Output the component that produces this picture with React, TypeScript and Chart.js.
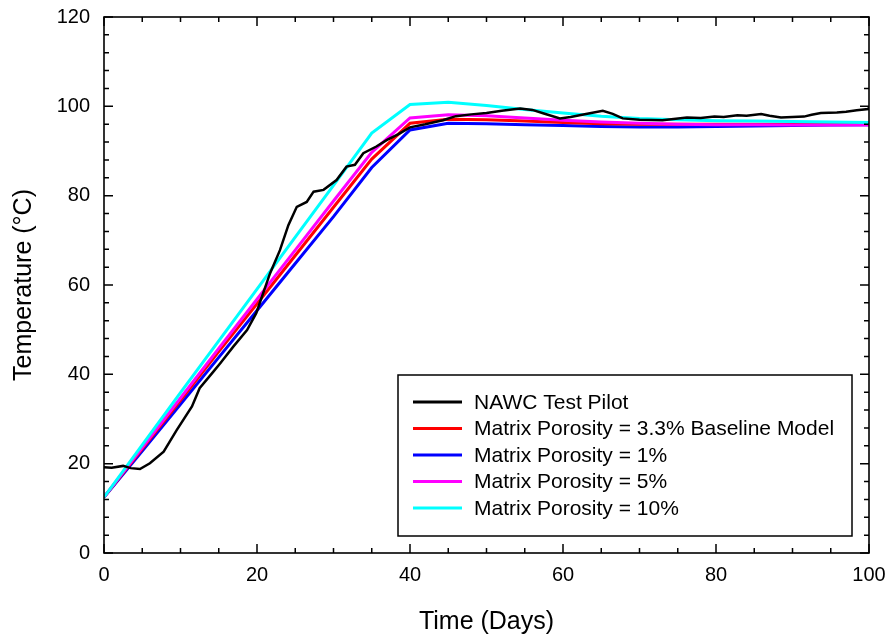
import React, { useEffect, useRef } from "react";
import { Chart, registerables } from "chart.js";

Chart.register(...registerables);

const pilotDays = [0, 1, 2.5, 3.5, 4.7, 6, 7.8, 9.5, 11.5, 12.5, 14.3, 15.2, 16.9, 18.7, 19.9, 21.7, 23, 24.1, 25.2, 26.5, 27.4, 28.7, 30.4, 31.7, 32.8, 33.9, 35.6, 37, 38.5, 40, 42, 44.3, 46, 48, 50, 52, 54.4, 56, 57.5, 59.6, 61, 63, 65.2, 66.5, 67.8, 70, 73, 76.2, 78, 79.8, 81, 82.8, 84, 85.9, 87, 88.5, 90, 91.5, 92.5, 93.7, 95.8, 97, 98.4, 99.9, 100];
const pilotTemp = [19.2, 19.1, 19.5, 19.0, 18.8, 20.1, 22.7, 27.5, 32.8, 36.9, 40.6, 42.5, 46.2, 49.9, 53.7, 62.6, 67.8, 73.4, 77.5, 78.6, 80.9, 81.3, 83.5, 86.5, 86.9, 89.5, 91.0, 92.5, 93.8, 95.3, 96.0, 96.9, 97.8, 98.2, 98.5, 99.0, 99.5, 99.2, 98.4, 97.3, 97.6, 98.3, 99.0, 98.3, 97.3, 97.0, 96.9, 97.5, 97.4, 97.7, 97.6, 98.0, 97.9, 98.3, 97.9, 97.5, 97.6, 97.7, 98.1, 98.5, 98.6, 98.8, 99.1, 99.4, 99.8];

const modelDays = [0, 5, 10, 15, 20, 25, 30, 35, 40, 45, 50, 55, 60, 65, 70, 75, 80, 85, 90, 95, 100];
const baseline33 = [12.5, 23.3, 34.2, 45.1, 55.8, 66.6, 77.4, 88.2, 96.2, 97.1, 97.0, 96.7, 96.4, 96.1, 96.0, 96.0, 96.0, 96.0, 96.0, 96.0, 96.0];
const porosity1 = [12.5, 22.8, 33.3, 43.8, 54.3, 64.8, 75.3, 86.3, 94.7, 96.2, 96.1, 95.9, 95.7, 95.5, 95.4, 95.4, 95.5, 95.6, 95.7, 95.8, 95.9];
const porosity5 = [12.5, 23.6, 34.7, 45.8, 56.8, 67.8, 78.8, 89.7, 97.4, 98.1, 97.9, 97.4, 96.9, 96.5, 96.2, 96.0, 95.9, 95.9, 95.8, 95.8, 95.8];
const porosity10 = [12.5, 24.2, 35.9, 47.5, 59.1, 70.7, 82.3, 94.0, 100.4, 100.9, 100.2, 99.3, 98.5, 97.8, 97.3, 97.0, 96.8, 96.7, 96.6, 96.5, 96.4];

const seriesLabels = [
  "NAWC Test Pilot",
  "Matrix Porosity = 3.3% Baseline Model",
  "Matrix Porosity = 1%",
  "Matrix Porosity = 5%",
  "Matrix Porosity = 10%",
];
const seriesColors = ["#000000", "#ff0000", "#0000ff", "#ff00ff", "#00ffff"];

const FONT = "'Liberation Sans', Arial, Helvetica, sans-serif";

const pts = (xs: number[], ys: number[]) => xs.map((x, i) => ({ x, y: ys[i] }));

const frameTicksPlugin = {
  id: "frameTicks",
  afterDatasetsDraw(chart: any) {
    const { ctx, chartArea, scales } = chart;
    const { left, right, top, bottom } = chartArea;
    const xs = scales.x;
    const ys = scales.y;
    ctx.save();
    ctx.strokeStyle = "#000";
    ctx.lineWidth = 1.5;
    ctx.beginPath();
    for (let v = 0; v <= 100; v += 5) {
      const px = xs.getPixelForValue(v);
      const len = v % 20 === 0 ? 9 : 5;
      ctx.moveTo(px, bottom);
      ctx.lineTo(px, bottom - len);
      ctx.moveTo(px, top);
      ctx.lineTo(px, top + len);
    }
    for (let v = 0; v <= 120; v += 4) {
      const py = ys.getPixelForValue(v);
      const len = v % 20 === 0 ? 9 : 5;
      ctx.moveTo(left, py);
      ctx.lineTo(left + len, py);
      ctx.moveTo(right, py);
      ctx.lineTo(right - len, py);
    }
    ctx.stroke();
    ctx.lineWidth = 1.6;
    ctx.strokeRect(left, top, right - left, bottom - top);
    ctx.restore();
  },
};

const legendBoxPlugin = {
  id: "legendBox",
  afterDraw(chart: any) {
    const { ctx, chartArea } = chart;
    const bx = chartArea.left + 294;
    const by = chartArea.top + 358;
    const bw = chartArea.right - 17 - bx;
    const bh = chartArea.bottom - 17 - by;
    ctx.save();
    ctx.fillStyle = "#fff";
    ctx.fillRect(bx, by, bw, bh);
    ctx.strokeStyle = "#000";
    ctx.lineWidth = 1.5;
    ctx.strokeRect(bx, by, bw, bh);
    ctx.font = `21px ${FONT}`;
    ctx.textBaseline = "middle";
    ctx.textAlign = "left";
    chart.data.datasets.forEach((ds: any, i: number) => {
      const y = by + 27 + i * 26.5;
      ctx.strokeStyle = ds.borderColor;
      ctx.lineWidth = 3;
      ctx.beginPath();
      ctx.moveTo(bx + 15, y);
      ctx.lineTo(bx + 64, y);
      ctx.stroke();
      ctx.fillStyle = "#000";
      ctx.fillText(ds.label, bx + 76, y + 1);
    });
    ctx.restore();
  },
};

export default function App() {
  const ref = useRef<HTMLCanvasElement | null>(null);

  useEffect(() => {
    document.body.style.margin = "0";
    const canvas = ref.current;
    if (!canvas) return;
    const chart = new Chart(canvas, {
      type: "line",
      data: {
        datasets: [
          { label: seriesLabels[0], data: pts(pilotDays, pilotTemp), borderColor: seriesColors[0], borderWidth: 2.5, order: 0 },
          { label: seriesLabels[1], data: pts(modelDays, baseline33), borderColor: seriesColors[1], borderWidth: 3, order: 3 },
          { label: seriesLabels[2], data: pts(modelDays, porosity1), borderColor: seriesColors[2], borderWidth: 3, order: 4 },
          { label: seriesLabels[3], data: pts(modelDays, porosity5), borderColor: seriesColors[3], borderWidth: 3, order: 2 },
          { label: seriesLabels[4], data: pts(modelDays, porosity10), borderColor: seriesColors[4], borderWidth: 3, order: 1 },
        ].map((d) => ({ ...d, pointRadius: 0, tension: 0, fill: false, backgroundColor: d.borderColor })),
      },
      options: {
        animation: false,
        responsive: false,
        devicePixelRatio: 1,
        layout: { padding: { left: 0, top: 17, right: 22, bottom: 0 } },
        plugins: { legend: { display: false }, tooltip: { enabled: false } },
        scales: {
          x: {
            type: "linear",
            min: 0,
            max: 100,
            grid: { display: false, drawTicks: false },
            border: { display: false },
            ticks: { stepSize: 20, color: "#000", font: { family: FONT, size: 20 }, padding: 10, maxRotation: 0 },
            title: { display: true, text: "Time (Days)", color: "#000", font: { family: FONT, size: 25 }, padding: { top: 0, bottom: 2 } },
            afterFit: (s: any) => { s.height = 86; s.paddingLeft = 0; s.paddingRight = 0; },
          },
          y: {
            type: "linear",
            min: 0,
            max: 120,
            grid: { display: false, drawTicks: false },
            border: { display: false },
            ticks: { stepSize: 20, color: "#000", font: { family: FONT, size: 20 }, padding: 14 },
            title: { display: true, text: "Temperature (°C)", color: "#000", font: { family: FONT, size: 25 }, padding: { top: 9, bottom: 0 } },
            afterFit: (s: any) => { s.width = 104; s.paddingTop = 0; s.paddingBottom = 0; },
          },
        },
      },
      plugins: [frameTicksPlugin, legendBoxPlugin],
    } as any);
    return () => chart.destroy();
  }, []);

  return (
    <div style={{ width: 891, height: 639, background: "#fff" }}>
      <canvas ref={ref} width={891} height={639} style={{ display: "block" }} />
    </div>
  );
}
